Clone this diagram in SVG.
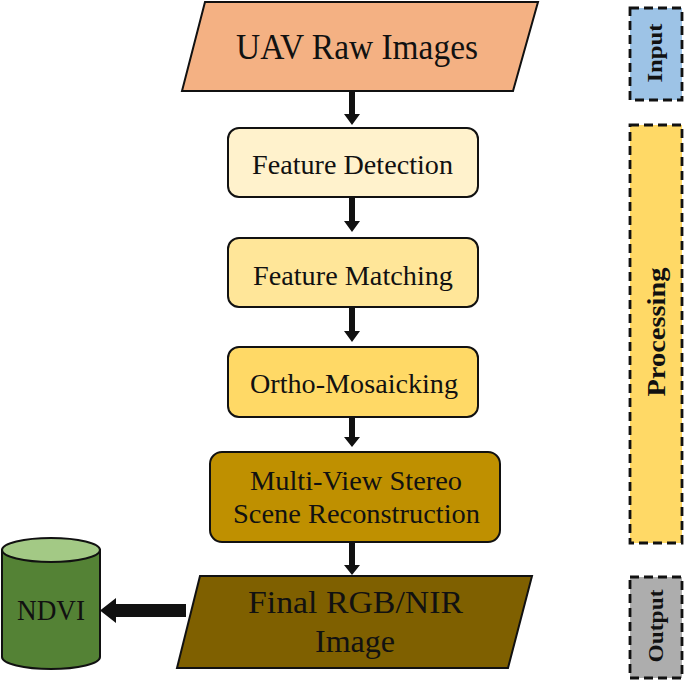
<svg xmlns="http://www.w3.org/2000/svg" width="685" height="681" viewBox="0 0 685 681">
<style>
.t{font-family:'Liberation Serif',serif;fill:#111;text-anchor:middle}
.box{stroke:#111;stroke-width:2}
.dash{stroke:#111;stroke-width:2.8;stroke-dasharray:9 5}
.lbl{font-family:'Liberation Serif',serif;font-weight:bold;fill:#111;text-anchor:middle}
.arr{fill:#111}
</style>
<rect width="685" height="681" fill="#fff"/>
<g id="uav">
<polygon class="box" points="205,2 538,2 513,91 182,91" fill="#f4b183"/>
<text class="t" x="357" y="59" font-size="35" textLength="242" lengthAdjust="spacingAndGlyphs">UAV Raw Images</text>
</g>
<g id="feature-detection">
<rect class="box" x="228" y="128" width="250" height="69" rx="11" fill="#fff2cc"/>
<text class="t" x="352.5" y="174" font-size="27" textLength="201" lengthAdjust="spacingAndGlyphs">Feature Detection</text>
</g>
<g id="feature-matching">
<rect class="box" x="228" y="238" width="250" height="69" rx="11" fill="#ffe699"/>
<text class="t" x="353" y="285" font-size="27" textLength="200" lengthAdjust="spacingAndGlyphs">Feature Matching</text>
</g>
<g id="ortho">
<rect class="box" x="228" y="347" width="250" height="70" rx="11" fill="#ffd966"/>
<text class="t" x="354" y="393" font-size="27" textLength="208" lengthAdjust="spacingAndGlyphs">Ortho-Mosaicking</text>
</g>
<g id="mvs">
<rect class="box" x="210" y="452" width="290" height="90" rx="12" fill="#bf9000"/>
<text class="t" x="356" y="490" font-size="27" textLength="212" lengthAdjust="spacingAndGlyphs">Multi-View Stereo</text>
<text class="t" x="356.5" y="523" font-size="27" textLength="247" lengthAdjust="spacingAndGlyphs">Scene Reconstruction</text>
</g>
<g id="final">
<polygon class="box" points="200,576 532,576 508,668 177,668" fill="#7f6000"/>
<text class="t" x="355.5" y="613" font-size="32" textLength="215" lengthAdjust="spacingAndGlyphs">Final RGB/NIR</text>
<text class="t" x="355" y="652" font-size="32" textLength="80" lengthAdjust="spacingAndGlyphs">Image</text>
</g>
<g id="ndvi">
<path class="box" d="M2,550 L2,657 A49,12 0 0 0 100,657 L100,550 Z" fill="#548235"/>
<ellipse class="box" cx="51" cy="550" rx="49" ry="12" fill="#a3c985"/>
<text class="t" x="51" y="620" font-size="30" textLength="68" lengthAdjust="spacingAndGlyphs">NDVI</text>
</g>
<g id="connectors">
<polygon class="arr" points="349,92 355,92 355,114 360,114 352,125 344,114 349,114"/>
<polygon class="arr" points="349,198 355,198 355,221 360,221 352,232 344,221 349,221"/>
<polygon class="arr" points="349,308 355,308 355,331 360,331 352,342 344,331 349,331"/>
<polygon class="arr" points="349,418 355,418 355,437 360,437 352,447 344,437 349,437"/>
<polygon class="arr" points="349,543 355,543 355,565 360,565 352,575 344,565 349,565"/>
<polygon class="arr" points="186,604 186,617 116,617 116,623 100,610.5 116,598 116,604"/>
</g>
<g id="input">
<rect class="dash" x="630" y="8" width="52" height="92" fill="#9dc3e6"/>
<text class="lbl" transform="translate(662,53) rotate(-90)" x="0" y="0" font-size="21" textLength="59" lengthAdjust="spacingAndGlyphs">Input</text>
</g>
<g id="processing">
<rect class="dash" x="630" y="125" width="52" height="418" fill="#ffd966"/>
<text class="lbl" transform="translate(665,332) rotate(-90)" x="0" y="0" font-size="26" textLength="129" lengthAdjust="spacingAndGlyphs">Processing</text>
</g>
<g id="output">
<rect class="dash" x="630" y="577" width="52" height="101" fill="#adadad"/>
<text class="lbl" transform="translate(663,626) rotate(-90)" x="0" y="0" font-size="22" textLength="73" lengthAdjust="spacingAndGlyphs">Output</text>
</g>
</svg>
